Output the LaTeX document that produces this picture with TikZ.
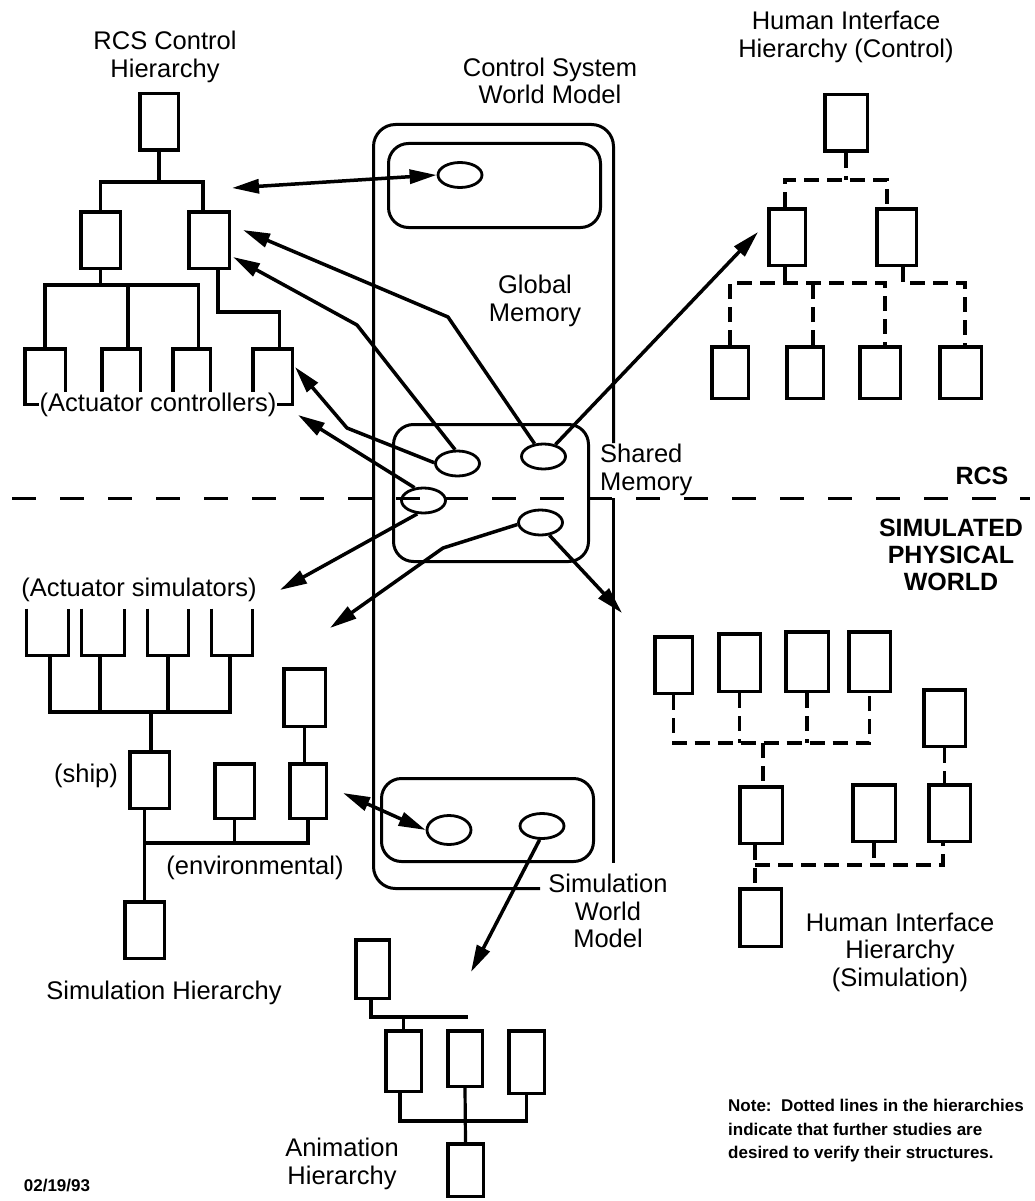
\documentclass[tikz,border=0pt]{standalone}
\usepackage{fontspec}
\setmainfont{Liberation Sans}
\usetikzlibrary{arrows.meta,shapes.geometric}

% \mkbox[style]{name}{x1}{y1}{x2}{y2}: box node whose outer edges are given
\newcommand{\mkbox}[6][unit]{%
  \pgfmathsetmacro{\mkW}{#5-#3-3.5}%
  \pgfmathsetmacro{\mkH}{#6-#4-3.5}%
  \pgfmathsetmacro{\mkX}{(#3+#5)/2}%
  \pgfmathsetmacro{\mkY}{(#4+#6)/2}%
  \node[#1, minimum width=\mkW pt, minimum height=\mkH pt] (#2) at (\mkX,\mkY) {};}

\begin{document}
\begin{tikzpicture}[x=1pt,y=-1pt,
  unit/.style={draw, line width=3.5pt, inner sep=0pt, rectangle},
  ghost/.style={inner sep=0pt, rectangle},
  link/.style={line width=3.2pt},
  dlink/.style={line width=3.3pt, dash pattern=on 15pt off 8pt},
  wall/.style={line width=3pt},
  membox/.style={draw, line width=3pt, rounded corners=20pt, inner sep=0pt, rectangle},
  mem/.style={draw, ellipse, line width=2.8pt, minimum width=44pt, minimum height=25pt, inner sep=0pt},
  arr/.style={line width=3.5pt, line join=round, -{Triangle[length=27pt,width=14pt]}},
  darr/.style={line width=3.5pt, {Triangle[length=27pt,width=14pt]}-{Triangle[length=27pt,width=14pt]}},
  lbl/.style={font=\fontsize{25.5pt}{27.5pt}\selectfont, align=center, inner sep=0pt},
  lblb/.style={font=\bfseries\fontsize{25pt}{27pt}\selectfont, align=center, inner sep=0pt},
  note/.style={font=\bfseries\fontsize{17pt}{23.5pt}\selectfont, align=left, inner sep=0pt},
]
\fill[white] (0,0) rectangle (1035,1201);
\useasboundingbox (0,0) rectangle (1035,1201);

% ---------- world model column ----------
\draw[wall, rounded corners=22pt] (613.5,443) -- (613.5,124.5) -- (373.5,124.5) -- (373.5,888.5) -- (540,888.5);
\draw[wall] (613.5,498) -- (613.5,863);

\node[membox, minimum width=212pt, minimum height=84pt] (gm) at (494.5,185.5) {};
\node[membox, minimum width=195pt, minimum height=137pt] (sm) at (491,493) {};
\node[membox, minimum width=212pt, minimum height=83pt] (sw) at (487.5,820) {};

\node[mem] (g1) at (460,175) {};
\node[mem] (sm1) at (457.5,463.5) {};
\node[mem] (sm2) at (543.5,456.5) {};
\node[mem] (sm3) at (423.5,500.5) {};
\node[mem] (sm4) at (540.5,522.5) {};
\node[mem, minimum height=29pt] (sw1) at (449,830) {};
\node[mem] (sw2) at (542,826) {};

% RCS / simulated world divider
\coordinate (divL) at (12,498);
\coordinate (divR) at (1030,498);
\draw[line width=3pt, dash pattern=on 24pt off 24pt] (divL) -- (divR);

% ---------- RCS control hierarchy ----------
\mkbox{r0}{138}{92}{180}{152}
\mkbox{r1}{79}{210}{122}{270}
\mkbox{r2}{187}{210}{231}{270}
\mkbox{r3}{23}{347}{67}{406}
\mkbox{r4}{100}{347}{142}{406}
\mkbox{r5}{171}{347}{212}{406}
\mkbox{r6}{251}{347}{294}{406}
\coordinate (rj) at (159,182);
\coordinate (rj2) at (100.5,285);
\coordinate (rj3) at (250,312);
\draw[link] (r0.south) -- (rj);
\draw[link] (r1.north) |- (rj) -| ([xshift=-6pt]r2.north);
\draw[link] (r1.south) -- (rj2);
\draw[link] (r3.north) |- (rj2) -| ([xshift=7pt]r5.north);
\draw[link] ([xshift=7pt]r4.north) -- ([xshift=7pt]r4.north |- rj2);
\draw[link] ([xshift=9pt]r2.south) |- (rj3) -| ([xshift=7pt]r6.north);
\node[lbl, fill=white, inner sep=1pt] (actc) at (158,405) {(Actuator controllers)};

% ---------- human interface hierarchy (control) ----------
\mkbox{h0}{823}{93}{869}{153}
\mkbox{h1}{767}{207}{807}{267}
\mkbox{h2}{875}{207}{918}{267}
\mkbox{h3}{710}{345}{750}{400}
\mkbox{h4}{785}{345}{825}{400}
\mkbox{h5}{858}{345}{902}{400}
\mkbox{h6}{938}{345}{983}{400}
\coordinate (hj) at (846,180);
\coordinate (hj2) at (785,283);
\coordinate (hj3) at (903,283);
\draw[dlink] (h0.south) -- (hj);
\draw[dlink] ([xshift=-2pt]h1.north) |- (hj) -| ([xshift=-9.5pt]h2.north);
\draw[dlink] ([xshift=-2pt]h1.south) -- (hj2);
\draw[dlink] (h3.north) |- (hj2) -| ([xshift=5pt]h5.north);
\draw[dlink] ([xshift=8pt]h4.north) -- ([xshift=8pt]h4.north |- hj2);
\draw[dlink] ([xshift=6.5pt]h2.south) -- (hj3) -| ([xshift=4.5pt]h6.north);

% ---------- simulation hierarchy ----------
\mkbox[ghost]{u1}{25}{607}{70}{657}
\mkbox[ghost]{u2}{80}{607}{126}{657}
\mkbox[ghost]{u3}{146}{607}{190}{657}
\mkbox[ghost]{u4}{210}{607}{254}{657}
\foreach \u in {u1,u2,u3,u4}
  \draw[line width=3.5pt] (\u.north west) -- (\u.south west) -- (\u.south east) -- (\u.north east);
\mkbox{ship}{128}{750}{171}{810}
\mkbox{sbot}{123}{900}{166}{960}
\mkbox{e1}{213}{762}{256}{820}
\mkbox{e2}{288}{762}{328}{820}
\mkbox{e3}{282}{667}{327}{728}
\coordinate (uj) at (151,712);
\coordinate (ej) at (144.5,843);
\draw[link] ([xshift=2.5pt]u1.south) |- (uj) -| ([xshift=-2pt]u4.south);
\draw[link] ([xshift=-3pt]u2.south) -- ([xshift=-3pt]u2.south |- uj);
\draw[link] (u3.south) -- (u3.south |- uj);
\draw[link] (uj) -- (uj |- ship.north);
\draw[link] (ship.south -| sbot.north) -- (sbot.north);
\draw[link] (ej) -- (ej -| e2.south) -- (e2.south);
\draw[link] (e1.south) -- (e1.south |- ej);
\draw[link] (e3.south) -- (e3.south |- e2.north);

% ---------- animation hierarchy ----------
\mkbox{a0}{354}{938}{391}{1000}
\mkbox{a1}{384}{1029}{423}{1093}
\mkbox{a2}{446}{1029}{484}{1088}
\mkbox{a3}{507}{1029}{546}{1095}
\mkbox{a4}{446}{1142}{485}{1198}
\coordinate (aj) at (371,1017);
\coordinate (aend) at (468,1017);
\coordinate (aj2) at (465,1121);
\draw[link] (a0.south -| aj) -- (aj) -- (aend);
\draw[link] (a1.north) -- (a1.north |- aj);
\draw[link] ([xshift=-3.5pt]a1.south) |- (aj2) -| (a3.south);
\draw[link] (a2.south) -- (a4.north);

% ---------- human interface hierarchy (simulation) ----------
\mkbox{p1}{653}{635}{694}{695}
\mkbox{p2}{717}{632}{762}{693}
\mkbox{p3}{784}{630}{830}{693}
\mkbox{p4}{847}{630}{892}{693}
\mkbox{p5}{922}{688}{967}{748}
\mkbox{q1}{738}{785}{784}{845}
\mkbox{q2}{851}{783}{897}{843}
\mkbox{q3}{927}{783}{972}{843}
\mkbox{q4}{738}{887}{783}{948}
\coordinate (pj) at (763,743);
\coordinate (qj) at (755,865);
\draw[dlink] (p1.south) |- (pj) -| (p4.south);
\draw[dlink] (p2.south) -- (p2.south |- pj);
\draw[dlink] (p3.south) -- (p3.south |- pj);
\draw[dlink] (pj) -- (pj |- q1.north);
\draw[dlink] (p5.south) -- (p5.south |- q3.north);
\draw[dlink] ([xshift=-6pt]q1.south) -- ([xshift=-5.5pt]q4.north);
\draw[dlink] (qj) -| ([xshift=-6.5pt]q3.south);
\draw[dlink] (q2.south) -- (q2.south |- qj);

% ---------- data flow arrows ----------
\coordinate (tipG) at (232,188);
\coordinate (tipA) at (243,230);
\coordinate (kinkA) at (448,317);
\coordinate (tipB) at (233,257);
\coordinate (kinkB) at (357,325);
\coordinate (tipC) at (295,367);
\coordinate (kinkC) at (347,428);
\coordinate (tipD) at (298,415);
\coordinate (tipE) at (280,590);
\coordinate (tipF) at (330,628);
\coordinate (kinkF) at (443,548);
\coordinate (tipH) at (622,613);
\coordinate (tipI) at (758,232);
\coordinate (tipJ) at (343,793);
\coordinate (tipK) at (471,972);

\draw[darr] (tipG) -- (g1.west);
\draw[arr] (sm2.125) -- (kinkA) -- (tipA);
\draw[arr] (sm1.100) -- (kinkB) -- (tipB);
\draw[arr] (sm1.178) -- (kinkC) -- (tipC);
\draw[arr] (sm3.125) -- (tipD);
\draw[arr] (sm3.245) -- (tipE);
\draw[arr] (sm4.185) -- (kinkF) -- (tipF);
\draw[arr] (sm4.305) -- (tipH);
\draw[arr] (sm2.45) -- (tipI);
\draw[darr] (tipJ) -- (sw1.west);
\draw[arr] (sw2.260) -- (tipK);

% ---------- labels ----------
\node[lbl] (trcs) at (165,57) {RCS Control\\Hierarchy};
\node[lbl] (tcswm) at (550,81) {Control System\\World Model};
\node[lbl] (thic) at (846,37) {Human Interface\\Hierarchy (Control)};
\node[lbl] (tgm) at (535,301) {Global\\Memory};
\node[lbl, align=left, anchor=west] (tsm) at (600,470) {Shared\\Memory};
\node[lblb] (trcsb) at (982,476) {RCS};
\node[lblb] (tspw) at (951,555) {SIMULATED\\PHYSICAL\\WORLD};
\node[lbl] (tacs) at (139,590) {(Actuator simulators)};
\node[lbl] (tship) at (86,776) {(ship)};
\node[lbl] (tenv) at (255,868) {(environmental)};
\node[lbl] (tsh) at (164,993) {Simulation Hierarchy};
\node[lbl] (tswm) at (608,911) {Simulation\\World\\Model};
\node[lbl] (tanim) at (342,1164) {Animation\\Hierarchy};
\node[lbl] (this) at (900,952) {Human Interface\\Hierarchy\\(Simulation)};
\node[note, anchor=west] (tnote) at (728,1131) {Note:\ \ Dotted lines in the hierarchies\\indicate that further studies are\\desired to verify their structures.};
\node[note] (tdate) at (57,1185) {02/19/93};
\end{tikzpicture}
\end{document}
